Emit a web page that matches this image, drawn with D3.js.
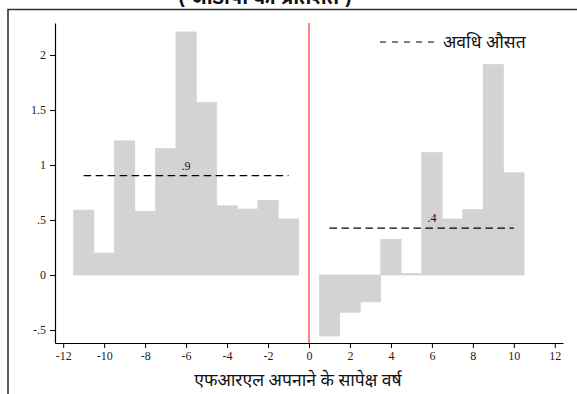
<!DOCTYPE html>
<html>
<head>
<meta charset="utf-8">
<script src="https://cdn.jsdelivr.net/npm/d3@7"></script>
<style>
  html, body { margin: 0; padding: 0; background: #fff; }
  svg { display: block; }
</style>
</head>
<body>
<svg id="chart" width="577" height="394"></svg>
<script>
// Years relative to FRL adoption and the average change for each year
const preYears = [-11, -10, -9, -8, -7, -6, -5, -4, -3, -2, -1];
const preValues = [0.59, 0.20, 1.22, 0.58, 1.15, 2.21, 1.57, 0.63, 0.60, 0.68, 0.51];
const postYears = [1, 2, 3, 4, 5, 6, 7, 8, 9, 10];
const postValues = [-0.555, -0.34, -0.245, 0.325, 0.015, 1.115, 0.51, 0.595, 1.915, 0.93];

const xTicks = [-12, -10, -8, -6, -4, -2, 0, 2, 4, 6, 8, 10, 12];
const yTicks = [-0.5, 0, 0.5, 1, 1.5, 2];
const yTickLabels = ["-.5", "0", ".5", "1", "1.5", "2"];

const titleText = "( जीडीपी का प्रतिशत )";
const xAxisTitle = "एफआरएल अपनाने के सापेक्ष वर्ष";
const legendLabel = "अवधि औसत";

const serif = "'Liberation Serif', 'DejaVu Serif', serif";
const deva = "'Noto Sans Devanagari', 'Lohit Devanagari', 'FreeSans', 'Noto Sans', sans-serif";

const svg = d3.select("#chart");

const x = d3.scaleLinear().domain([-12.4, 12.4]).range([55, 563]);
const y = d3.scaleLinear().domain([-0.618, 2.291]).range([343, 23]);

// Outer frame (top and left edges)
svg.append("path")
  .attr("d", "M8,394 V9.5 H577")
  .attr("fill", "none")
  .attr("stroke", "#333")
  .attr("stroke-width", 1.6);

// Title, sitting above the frame
svg.append("text")
  .attr("x", 265).attr("y", 4)
  .attr("text-anchor", "middle")
  .attr("font-family", deva)
  .attr("font-weight", "bold")
  .attr("font-size", 20)
  .attr("fill", "#111")
  .text(titleText);

// Bars
function bars(years, values) {
  svg.append("g").selectAll("rect")
    .data(years.map((yr, i) => ({ yr, v: values[i] })))
    .join("rect")
    .attr("x", d => x(d.yr - 0.5))
    .attr("width", d => x(d.yr + 0.5) - x(d.yr - 0.5))
    .attr("y", d => y(Math.max(0, d.v)))
    .attr("height", d => Math.abs(y(d.v) - y(0)))
    .attr("fill", "#d3d3d3")
    .attr("stroke", "#d3d3d3")
    .attr("stroke-width", 0.6);
}
bars(preYears, preValues);
bars(postYears, postValues);

// Period averages
function periodMean(years, values, labelYear, label) {
  const m = d3.mean(values);
  svg.append("line")
    .attr("x1", x(d3.min(years))).attr("x2", x(d3.max(years)))
    .attr("y1", y(m)).attr("y2", y(m))
    .attr("stroke", "#000")
    .attr("stroke-width", 1.1)
    .attr("stroke-dasharray", "7.5,4.5");
  svg.append("text")
    .attr("x", x(labelYear)).attr("y", y(m) - 6)
    .attr("text-anchor", "middle")
    .attr("font-family", serif)
    .attr("font-size", 12)
    .attr("fill", "#111")
    .text(label);
}
periodMean(preYears, preValues, -6, ".9");
periodMean(postYears, postValues, 6, ".4");

// Adoption year marker
svg.append("line")
  .attr("x1", x(0)).attr("x2", x(0))
  .attr("y1", y.range()[1]).attr("y2", y.range()[0])
  .attr("stroke", "#ff3030")
  .attr("stroke-width", 1.2);

// Axes
const xAxis = svg.append("g")
  .attr("transform", `translate(0,${y.range()[0]})`)
  .call(d3.axisBottom(x).tickValues(xTicks).tickFormat(d => String(d)).tickSize(5).tickSizeOuter(0).tickPadding(3));
const yAxis = svg.append("g")
  .attr("transform", `translate(${x.range()[0]},0)`)
  .call(d3.axisLeft(y).tickValues(yTicks).tickFormat((d, i) => yTickLabels[i]).tickSize(5).tickSizeOuter(0).tickPadding(4));

[xAxis, yAxis].forEach(g => {
  g.select(".domain").attr("stroke", "#000").attr("stroke-width", 1.2);
  g.selectAll(".tick line").attr("stroke", "#000").attr("stroke-width", 1);
  g.selectAll(".tick text")
    .attr("font-family", serif)
    .attr("font-size", 12)
    .attr("fill", "#222");
});

// X axis title
svg.append("text")
  .attr("x", 298).attr("y", 386)
  .attr("text-anchor", "middle")
  .attr("font-family", deva)
  .attr("font-size", 17.5)
  .attr("fill", "#111")
  .text(xAxisTitle);

// Legend
svg.append("line")
  .attr("x1", 380).attr("x2", 434)
  .attr("y1", 42).attr("y2", 42)
  .attr("stroke", "#000")
  .attr("stroke-width", 1.1)
  .attr("stroke-dasharray", "6,6");
svg.append("text")
  .attr("x", 443).attr("y", 48)
  .attr("font-family", deva)
  .attr("font-size", 17.5)
  .attr("fill", "#111")
  .text(legendLabel);
</script>
</body>
</html>
